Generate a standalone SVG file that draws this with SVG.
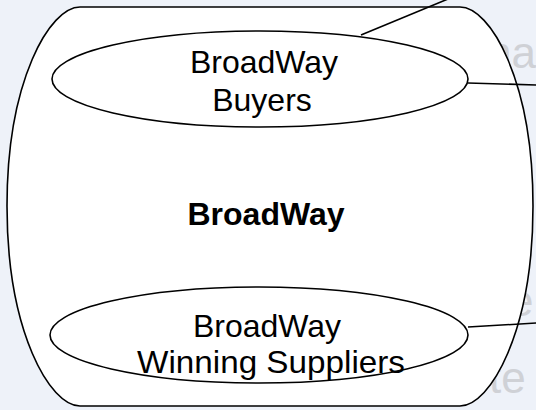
<svg xmlns="http://www.w3.org/2000/svg" width="536" height="410" viewBox="0 0 536 410">
<style>
.bg{fill:#eef2f9}
.ghost{font-family:"Liberation Sans",Arial,sans-serif;font-size:44px;fill:#cfd1d6}
.shape{fill:#ffffff;stroke:#000;stroke-width:1.6}
.lbl{font-family:"Liberation Sans",Arial,sans-serif;font-size:32px;fill:#000;text-anchor:middle}
.conn{fill:none;stroke:#000;stroke-width:1.6}
</style>
<rect class="bg" x="0" y="0" width="536" height="410"/>
<g id="ghost-text">
<text class="ghost" x="487" y="68">na</text>
<text class="ghost" x="509" y="316">e</text>
<text class="ghost" x="489" y="393">te</text>
</g>
<g id="broadway">
<path class="shape" d="M80,7 L460,7 C490,7 533,80 533,206 C533,332 490,406 460,406 L80,406 C50,406 7,332 7,206 C7,80 50,7 80,7 Z"/>
<text class="lbl" x="266" y="225" font-weight="bold" font-size="28">BroadWay</text>
</g>
<g id="connectors">
<line class="conn" x1="361" y1="35" x2="448" y2="-1"/>
<line class="conn" x1="468" y1="83" x2="537" y2="85"/>
<line class="conn" x1="468" y1="327" x2="537" y2="323"/>
</g>
<g id="buyers">
<ellipse class="shape" cx="260" cy="79" rx="208" ry="48"/>
<text class="lbl" x="264" y="73">BroadWay</text>
<text class="lbl" x="262" y="111">Buyers</text>
</g>
<g id="suppliers">
<ellipse class="shape" cx="259" cy="335" rx="209" ry="48"/>
<text class="lbl" x="267" y="337">BroadWay</text>
<text class="lbl" x="271" y="373" textLength="268" lengthAdjust="spacingAndGlyphs">Winning Suppliers</text>
</g>
</svg>
